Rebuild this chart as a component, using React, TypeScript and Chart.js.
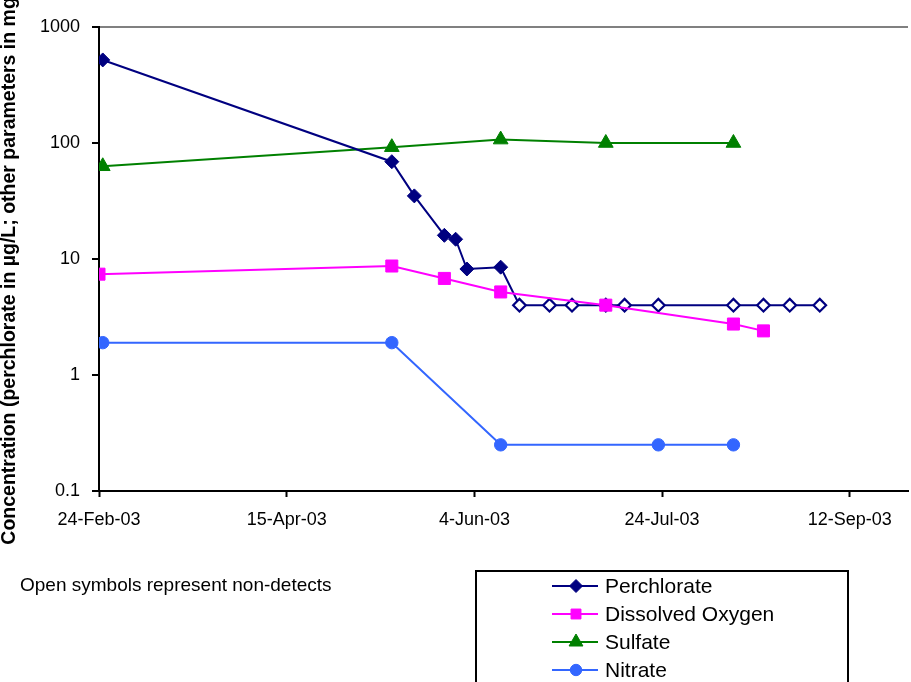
import React, { useEffect, useRef } from 'react';
import { Chart, registerables } from 'chart.js';
import { drawPoint } from 'chart.js/helpers';

Chart.register(...registerables);

const MONTHS = ['Jan', 'Feb', 'Mar', 'Apr', 'May', 'Jun', 'Jul', 'Aug', 'Sep', 'Oct', 'Nov', 'Dec'];
const START_DATE = '2003-02-24';
const X_MAX_DAYS = 215.5;
const xTickDays = [0, 50, 100, 150, 200];
const yTickValues = [0.1, 1, 10, 100, 1000];
const yTickLabels = ['0.1', '1', '10', '100', '1000'];

const seriesNames = ['Perchlorate', 'Dissolved Oxygen', 'Sulfate', 'Nitrate'];
const noteText = 'Open symbols represent non-detects';
const yAxisTitle = 'Concentration (perchlorate in µg/L; other parameters in mg/L)';

const perchlorateDates = [
  '2003-02-25', '2003-05-13', '2003-05-19', '2003-05-27', '2003-05-30', '2003-06-02', '2003-06-11',
  '2003-06-16', '2003-06-24', '2003-06-30', '2003-07-09', '2003-07-14', '2003-07-23', '2003-08-12',
  '2003-08-20', '2003-08-27', '2003-09-04',
];
const perchlorateValues = [520, 69, 35, 16, 14.8, 8.2, 8.5, 4, 4, 4, 4, 4, 4, 4, 4, 4, 4];
const perchlorateDetected = [true, true, true, true, true, true, true, false, false, false, false, false, false, false, false, false, false];

const doDates = ['2003-02-24', '2003-05-13', '2003-05-27', '2003-06-11', '2003-07-09', '2003-08-12', '2003-08-20'];
const doValues = [7.4, 8.7, 6.8, 5.2, 4.0, 2.75, 2.4];

const sulfateDates = ['2003-02-25', '2003-05-13', '2003-06-11', '2003-07-09', '2003-08-12'];
const sulfateValues = [63, 92, 107, 100, 100];

const nitrateDates = ['2003-02-25', '2003-05-13', '2003-06-11', '2003-07-23', '2003-08-12'];
const nitrateValues = [1.9, 1.9, 0.25, 0.25, 0.25];

const FONT = '"Liberation Sans", Arial, Helvetica, sans-serif';
const NAVY = '#000080';
const MAGENTA = '#FF00FF';
const GREEN = '#008000';
const BLUE = '#3366FF';

function ymd(s: string) {
  const [y, m, d] = s.split('-').map(Number);
  return Date.UTC(y, m - 1, d);
}
const BASE = ymd(START_DATE);
function dayOf(s: string) {
  return (ymd(s) - BASE) / 86400000;
}
function fmtDay(day: number) {
  const dt = new Date(BASE + day * 86400000);
  return `${dt.getUTCDate()}-${MONTHS[dt.getUTCMonth()]}-${String(dt.getUTCFullYear()).slice(2)}`;
}
function pts(dates: string[], values: number[]) {
  return dates.map((d, i) => ({ x: dayOf(d), y: values[i] }));
}

const legendMarkers = [
  { pointStyle: 'rectRot', radius: 6.5, fill: NAVY, stroke: NAVY, borderWidth: 1 },
  { pointStyle: 'rect', radius: 7, fill: MAGENTA, stroke: MAGENTA, borderWidth: 1 },
  { pointStyle: 'triangle', radius: 8, fill: GREEN, stroke: GREEN, borderWidth: 1 },
  { pointStyle: 'circle', radius: 5.7, fill: BLUE, stroke: BLUE, borderWidth: 1 },
];

const overlayPlugin = {
  id: 'overlay',
  afterDraw(chart: any) {
    const ctx = chart.ctx as CanvasRenderingContext2D;
    ctx.save();
    ctx.fillStyle = '#000';
    ctx.font = `19px ${FONT}`;
    ctx.textAlign = 'left';
    ctx.textBaseline = 'alphabetic';
    ctx.fillText(noteText, 20, 591);

    ctx.lineWidth = 2;
    ctx.strokeStyle = '#000';
    ctx.strokeRect(476, 571, 372, 160);

    chart.data.datasets.forEach((ds: any, i: number) => {
      const y = 586 + i * 28;
      ctx.strokeStyle = ds.borderColor;
      ctx.lineWidth = 2;
      ctx.beginPath();
      ctx.moveTo(552, y);
      ctx.lineTo(598, y);
      ctx.stroke();
      const m = legendMarkers[i];
      ctx.fillStyle = m.fill;
      ctx.strokeStyle = m.stroke;
      ctx.lineWidth = m.borderWidth;
      drawPoint(ctx, { pointStyle: m.pointStyle as any, radius: m.radius, borderWidth: m.borderWidth, rotation: 0 }, 576, y);
      ctx.fillStyle = '#000';
      ctx.font = `21px ${FONT}`;
      ctx.textBaseline = 'middle';
      ctx.textAlign = 'left';
      ctx.fillText(seriesNames[i], 605, y + 1);
    });
    ctx.restore();
  },
};

export default function App() {
  const ref = useRef<HTMLCanvasElement | null>(null);

  useEffect(() => {
    if (!ref.current) return;
    const chart = new Chart(ref.current, {
      type: 'line',
      data: {
        datasets: [
          {
            label: seriesNames[0],
            data: pts(perchlorateDates, perchlorateValues),
            borderColor: NAVY,
            backgroundColor: NAVY,
            borderWidth: 2,
            pointStyle: 'rectRot',
            pointRadius: perchlorateDetected.map((d) => (d ? 7 : 6.3)),
            pointBackgroundColor: perchlorateDetected.map((d) => (d ? NAVY : '#FFFFFF')),
            pointBorderColor: NAVY,
            pointBorderWidth: perchlorateDetected.map((d) => (d ? 1 : 2.2)),
            order: 2,
          },
          {
            label: seriesNames[1],
            data: pts(doDates, doValues),
            borderColor: MAGENTA,
            backgroundColor: MAGENTA,
            borderWidth: 2,
            pointStyle: 'rect',
            pointRadius: 8.5,
            pointBackgroundColor: MAGENTA,
            pointBorderColor: MAGENTA,
            pointBorderWidth: 1,
            order: 1,
          },
          {
            label: seriesNames[2],
            data: pts(sulfateDates, sulfateValues),
            borderColor: GREEN,
            backgroundColor: GREEN,
            borderWidth: 2,
            pointStyle: 'triangle',
            pointRadius: 8.5,
            pointBackgroundColor: GREEN,
            pointBorderColor: GREEN,
            pointBorderWidth: 1,
            order: 3,
          },
          {
            label: seriesNames[3],
            data: pts(nitrateDates, nitrateValues),
            borderColor: BLUE,
            backgroundColor: BLUE,
            borderWidth: 2,
            pointStyle: 'circle',
            pointRadius: 6.2,
            pointBackgroundColor: BLUE,
            pointBorderColor: BLUE,
            pointBorderWidth: 1,
            order: 4,
          },
        ],
      },
      options: {
        animation: false,
        responsive: false,
        maintainAspectRatio: false,
        layout: { autoPadding: false, padding: { top: 27, right: 3, left: 0, bottom: 0 } },
        plugins: {
          legend: { display: false },
          tooltip: { enabled: false },
        },
        elements: { line: { tension: 0 } },
        scales: {
          x: {
            type: 'linear',
            min: 0,
            max: X_MAX_DAYS,
            afterBuildTicks: (scale: any) => {
              scale.ticks = xTickDays.map((v) => ({ value: v }));
            },
            afterFit: (scale: any) => {
              scale.height = 682 - 491;
              scale.paddingLeft = 0;
              scale.paddingRight = 0;
            },
            ticks: {
              autoSkip: false,
              maxRotation: 0,
              minRotation: 0,
              padding: 12,
              color: '#000',
              font: { family: FONT, size: 18 },
              callback: (v: any) => fmtDay(Number(v)),
            },
            grid: {
              drawOnChartArea: false,
              drawTicks: true,
              tickLength: 6,
              tickColor: '#000',
              tickWidth: 2,
              color: '#000',
            },
            border: { display: true, color: '#000', width: 2 },
          },
          y: {
            type: 'logarithmic',
            min: 0.1,
            max: 1000,
            afterBuildTicks: (scale: any) => {
              scale.ticks = yTickValues.map((v) => ({ value: v }));
            },
            afterFit: (scale: any) => {
              scale.width = 99;
              scale.paddingTop = 0;
              scale.paddingBottom = 0;
            },
            ticks: {
              padding: 12,
              color: '#000',
              font: { family: FONT, size: 18 },
              callback: (v: any) => {
                const idx = yTickValues.findIndex((t) => Math.abs(t - Number(v)) < 1e-9);
                return idx >= 0 ? yTickLabels[idx] : '';
              },
            },
            grid: {
              drawOnChartArea: true,
              drawTicks: true,
              tickLength: 7,
              tickColor: '#000',
              tickWidth: 2,
              lineWidth: 2,
              color: (ctx: any) => (ctx.tick && ctx.tick.value === 1000 ? '#808080' : 'rgba(0,0,0,0)'),
            },
            border: { display: true, color: '#000', width: 2 },
            title: {
              display: true,
              text: yAxisTitle,
              color: '#000',
              font: { family: FONT, size: 19.5, weight: 'bold', lineHeight: 1.0 },
              padding: { top: 0, bottom: 0 },
            },
          },
        },
      },
      plugins: [overlayPlugin],
    } as any);
    return () => chart.destroy();
  }, []);

  return (
    <div style={{ position: 'absolute', left: 0, top: 0, width: 911, height: 682, background: '#fff' }}>
      <canvas ref={ref} width={911} height={682} style={{ display: 'block', width: 911, height: 682 }} />
    </div>
  );
}
